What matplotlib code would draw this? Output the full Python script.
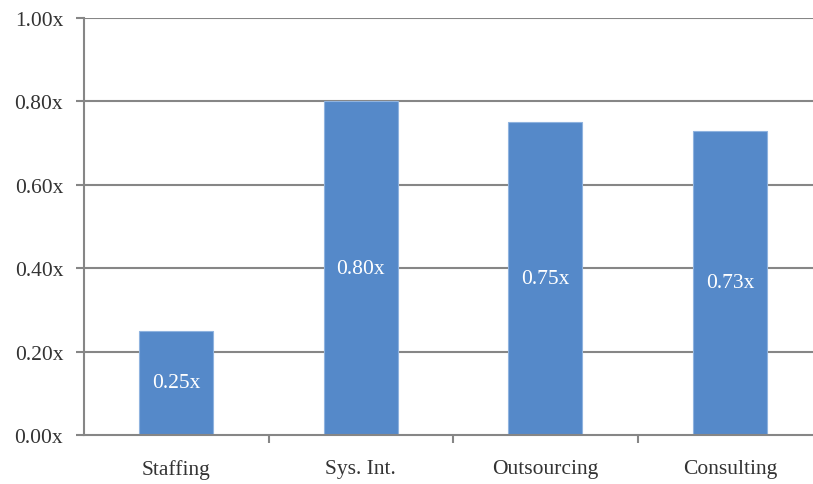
import numpy as np
import matplotlib.pyplot as plt

categories = ['Staffing', 'Sys. Int.', 'Outsourcing', 'Consulting']
values = [0.25, 0.80, 0.75, 0.73]
yticks = [0.0, 0.2, 0.4, 0.6, 0.8, 1.0]

plt.rcParams['font.family'] = ['Liberation Serif', 'DejaVu Serif']

fig = plt.figure(figsize=(8.13, 4.85), dpi=100)
ax = fig.add_axes([84/813, 49/485, 729/813, 417/485])

gray = '#868686'
x = np.arange(len(categories))
ax.bar(x, values, width=0.4, color='#5589c9', edgecolor='#8fb3df', linewidth=0.8, zorder=3)

for i, v in enumerate(values):
    ax.text(i, v/2, '%.2fx' % v, color='white', ha='center', va='center', fontsize=15.5, zorder=4)

ax.set_ylim(0, 1.0)
ax.set_xlim(-0.5, 3.45)
ax.set_yticks(yticks)
ax.set_yticklabels(['%.2fx' % t for t in yticks], fontsize=15.5, color='#333333')
for t in yticks[1:]:
    ax.axhline(t, color=gray, lw=1.5, zorder=1)

ax.set_xticks(x)
ax.set_xticklabels(categories, fontsize=15.5, color='#333333')
ax.tick_params(axis='x', length=0, pad=17)
ax.set_xticks([0.5, 1.5, 2.5], minor=True)
ax.tick_params(axis='x', which='minor', length=6, width=1.5, color=gray)
ax.tick_params(axis='y', length=6, width=1.5, color=gray, pad=9)

for s in ['top', 'right']:
    ax.spines[s].set_visible(False)
ax.spines['left'].set_color(gray)
ax.spines['left'].set_linewidth(1.5)
ax.spines['bottom'].set_color(gray)
ax.spines['bottom'].set_linewidth(1.5)
ax.spines['bottom'].set_zorder(5)

fig.savefig('out.png', dpi=100)
